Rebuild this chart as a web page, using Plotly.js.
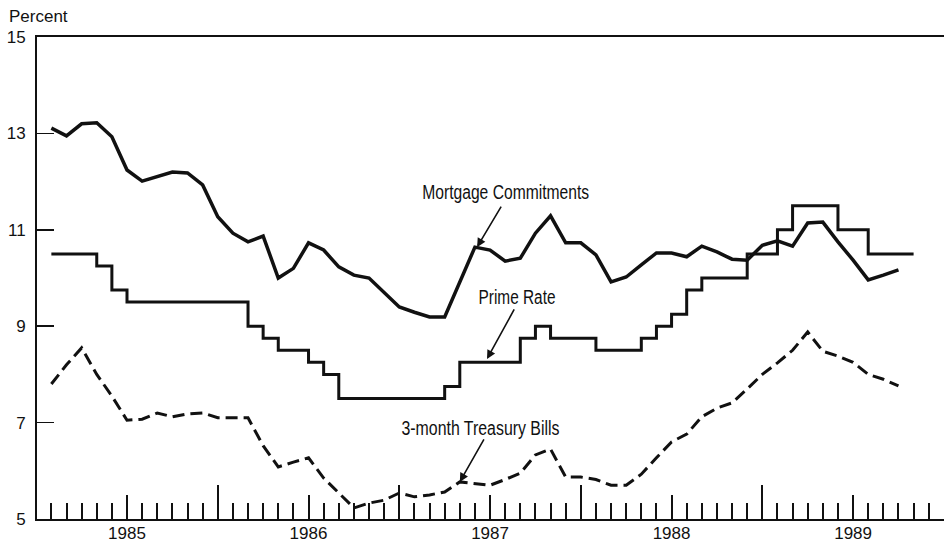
<!DOCTYPE html>
<html>
<head>
<meta charset="utf-8">
<script src="https://cdn.plot.ly/plotly-3.0.1.min.js"></script>
<style>
  html, body { margin: 0; padding: 0; background: #fff; }
  #chart { width: 944px; height: 545px; }
</style>
</head>
<body>
<div id="chart"></div>
<script>
// month index 0 = Jan 1985
const mortgage = [
  13.11, 12.95, 13.2, 13.22, 12.93, 12.24, 12.01, 12.1, 12.2, 12.18, 11.93, 11.27,
  10.93, 10.75, 10.87, 10.0, 10.2, 10.73, 10.58, 10.23, 10.06, 10.0, 9.71, 9.4,
  9.29, 9.19, 9.19, 9.9, 10.64, 10.58, 10.35, 10.41, 10.93, 11.29, 10.73, 10.73,
  10.48, 9.92, 10.02, 10.27, 10.52, 10.52, 10.44, 10.66, 10.54, 10.39, 10.37, 10.68,
  10.77, 10.66, 11.14, 11.16, 10.75, 10.37, 9.96, 10.06, 10.17
];

const prime = [
  10.5, 10.5, 10.5, 10.25, 9.75, 9.5, 9.5, 9.5, 9.5, 9.5, 9.5, 9.5,
  9.5, 9.0, 8.75, 8.5, 8.5, 8.25, 8.0, 7.5, 7.5, 7.5, 7.5, 7.5,
  7.5, 7.5, 7.75, 8.25, 8.25, 8.25, 8.25, 8.75, 9.0, 8.75, 8.75, 8.75,
  8.5, 8.5, 8.5, 8.75, 9.0, 9.25, 9.75, 10.0, 10.0, 10.0, 10.5, 10.5,
  11.0, 11.5, 11.5, 11.5, 11.0, 11.0, 10.5, 10.5, 10.5, 10.5
];

const tbill = [
  7.8, 8.2, 8.55, 8.0, 7.55, 7.05, 7.07, 7.2, 7.12, 7.18, 7.2, 7.1,
  7.1, 7.1, 6.52, 6.08, 6.18, 6.27, 5.85, 5.53, 5.23, 5.33, 5.39, 5.54,
  5.46, 5.5, 5.56, 5.77, 5.73, 5.7, 5.82, 5.95, 6.33, 6.45, 5.87, 5.87,
  5.82, 5.7, 5.7, 5.93, 6.27, 6.6, 6.76, 7.12, 7.3, 7.41, 7.7, 8.0,
  8.24, 8.5, 8.88, 8.48, 8.38, 8.25, 8.0, 7.9, 7.76
];

const yearLabels = ['1985', '1986', '1987', '1988', '1989'];
const yearLabelPos = [5, 17, 29, 41, 53];
const yearBreakPos = [11, 23, 35, 47];
const monthTicks = [];
for (let i = 0; i <= 58; i++) monthTicks.push(i);

const ink = '#111';
const labelFont = { family: 'Liberation Sans, Arial, sans-serif', size: 17, color: ink };
const noteFont = { family: 'Liberation Sans, Arial, sans-serif', size: 20, color: ink };
const xRange = [-0.95, 59.01];

// widths of the condensed label type in the original
const noteWidths = { 'Mortgage Commitments': 167, 'Prime Rate': 77, '3-month Treasury Bills': 158 };

function indexOf( values ) {
  return values.map( (v, i) => i );
}

const data = [
  { x: indexOf(mortgage), y: mortgage, mode: 'lines', name: 'Mortgage Commitments',
    line: { color: ink, width: 3.5 } },
  { x: indexOf(prime), y: prime, mode: 'lines', name: 'Prime Rate',
    line: { color: ink, width: 3, shape: 'hv' } },
  { x: indexOf(tbill), y: tbill, mode: 'lines', name: '3-month Treasury Bills',
    line: { color: ink, width: 3, dash: '12px,6px' } },
  // empty traces so the extra tick axes get drawn
  { x: [], y: [], xaxis: 'x2', yaxis: 'y', mode: 'lines' },
  { x: [], y: [], xaxis: 'x3', yaxis: 'y', mode: 'lines' }
];

function tickAxis( vals, len, extra ) {
  return Object.assign({
    range: xRange, fixedrange: true, showgrid: false, zeroline: false,
    tickmode: 'array', tickvals: vals, ticks: 'inside', ticklen: len,
    tickwidth: 2, tickcolor: ink, showticklabels: false
  }, extra);
}

function arrow( x, y, ax, ay ) {
  return { x: x, y: y, ax: ax, ay: ay, text: '', showarrow: true,
           arrowhead: 2, arrowsize: 1.1, arrowwidth: 1.6, arrowcolor: ink, standoff: 0 };
}

function note( x, y, text ) {
  return { x: x, y: y, text: text, showarrow: false, font: noteFont };
}

const layout = {
  width: 944,
  height: 545,
  margin: { l: 37, r: 0, t: 37, b: 26 },
  paper_bgcolor: '#fff',
  plot_bgcolor: '#fff',
  showlegend: false,
  xaxis: tickAxis( monthTicks, 16, { showline: true, linecolor: ink, linewidth: 2, mirror: true } ),
  xaxis2: tickAxis( yearLabelPos, 24, { overlaying: 'x', anchor: 'y', side: 'bottom',
    ticktext: yearLabels, showticklabels: true, tickfont: labelFont, ticklabelstandoff: 2 } ),
  xaxis3: tickAxis( yearBreakPos, 34, { overlaying: 'x', anchor: 'y', side: 'bottom' } ),
  yaxis: {
    range: [5, 15], fixedrange: true, showgrid: false, zeroline: false,
    tickmode: 'array', tickvals: [5, 7, 9, 11, 13, 15],
    ticks: 'inside', ticklen: 17, tickwidth: 1.5, tickcolor: ink,
    showline: true, linecolor: ink, linewidth: 2,
    tickfont: labelFont, ticklabelstandoff: 6
  },
  yaxis2: {
    range: [5, 15], fixedrange: true, showgrid: false, zeroline: false,
    overlaying: 'y', anchor: 'x', side: 'right',
    tickmode: 'array', tickvals: [7, 9, 11, 13],
    ticks: 'inside', ticklen: 14, tickwidth: 1.5, tickcolor: ink,
    showline: false, showticklabels: false
  },
  annotations: [
    { xref: 'paper', yref: 'paper', x: -0.033, y: 1.0415, xanchor: 'left', yanchor: 'middle',
      text: 'Percent', showarrow: false, font: { family: labelFont.family, size: 17, color: ink } },
    note( 30.0, 11.78, 'Mortgage Commitments' ),
    note( 30.8, 9.6, 'Prime Rate' ),
    note( 28.4, 6.89, '3-month Treasury Bills' ),
    arrow( 28.14, 10.64, 25, -42 ),
    arrow( 28.8, 8.32, 28, -51 ),
    arrow( 27.0, 5.77, 25, -44 )
  ]
};

const chart = document.getElementById('chart');
Plotly.newPlot( chart, data, layout, { staticPlot: true, displayModeBar: false } ).then( () => {
  // squeeze the series labels to the narrow type of the original
  chart.querySelectorAll('.annotation-text').forEach( (el) => {
    const w = noteWidths[el.textContent];
    if( w ) {
      el.setAttribute('textLength', w);
      el.setAttribute('lengthAdjust', 'spacingAndGlyphs');
    }
  });
});
</script>
</body>
</html>
